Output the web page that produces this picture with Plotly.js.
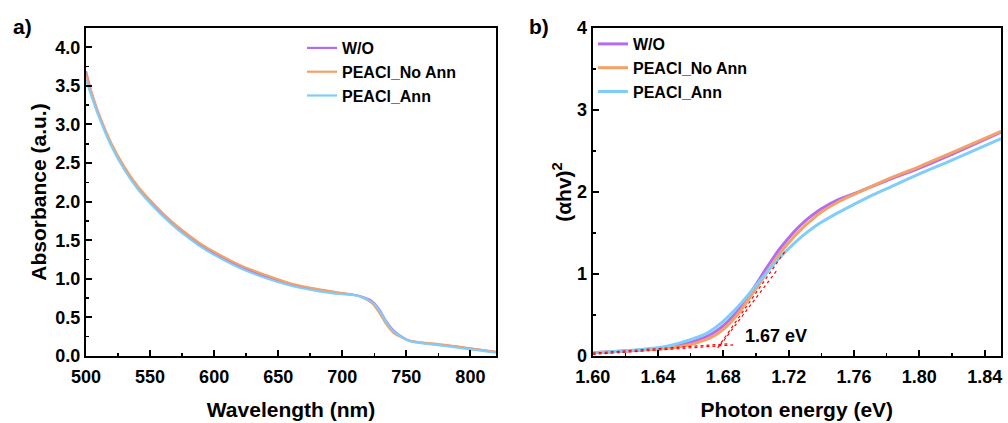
<!DOCTYPE html>
<html>
<head>
<meta charset="utf-8">
<script src="https://cdn.plot.ly/plotly-3.0.1.min.js"></script>
<style>html,body{margin:0;padding:0;background:#fff;}#chart{width:1008px;height:423px;}</style>
</head>
<body>
<div id="chart"></div>
<script>
// ---- Panel a) absorbance ----
const wavelength = [500, 505, 510, 520, 530, 540, 550, 560, 570, 580, 590, 600, 620, 640, 660, 680, 700, 710, 716, 720, 724, 729, 734, 740, 747, 752, 758, 765, 780, 800, 820];
const absWO      = [3.69, 3.37, 3.13, 2.73, 2.43, 2.19, 2.00, 1.83, 1.68, 1.55, 1.43, 1.33, 1.16, 1.03, 0.93, 0.86, 0.81, 0.79, 0.765, 0.74, 0.70, 0.60, 0.46, 0.33, 0.245, 0.20, 0.18, 0.165, 0.14, 0.095, 0.05];
const absNoAnn   = [3.66, 3.38, 3.14, 2.75, 2.45, 2.21, 2.02, 1.85, 1.70, 1.57, 1.45, 1.35, 1.18, 1.05, 0.94, 0.87, 0.815, 0.79, 0.755, 0.72, 0.67, 0.56, 0.42, 0.30, 0.235, 0.20, 0.185, 0.17, 0.145, 0.10, 0.055];
const absAnn     = [3.58, 3.33, 3.10, 2.71, 2.41, 2.17, 1.98, 1.81, 1.66, 1.53, 1.41, 1.31, 1.14, 1.01, 0.91, 0.845, 0.80, 0.785, 0.76, 0.73, 0.69, 0.59, 0.45, 0.32, 0.24, 0.195, 0.175, 0.16, 0.13, 0.085, 0.045];

// ---- Panel b) Tauc plot ----
const energy    = [1.60, 1.62, 1.64, 1.65, 1.66, 1.665, 1.67, 1.675, 1.68, 1.685, 1.69, 1.695, 1.70, 1.705, 1.71, 1.715, 1.72, 1.725, 1.73, 1.735, 1.74, 1.75, 1.76, 1.77, 1.78, 1.80, 1.82, 1.85];
const taucWO    = [0.04, 0.06, 0.09, 0.12, 0.165, 0.20, 0.24, 0.295, 0.37, 0.465, 0.58, 0.72, 0.87, 1.03, 1.18, 1.32, 1.44, 1.55, 1.645, 1.725, 1.795, 1.905, 1.98, 2.06, 2.14, 2.29, 2.46, 2.73];
const taucNoAnn = [0.04, 0.06, 0.085, 0.105, 0.14, 0.17, 0.205, 0.255, 0.325, 0.42, 0.54, 0.68, 0.82, 0.97, 1.12, 1.26, 1.38, 1.49, 1.59, 1.675, 1.755, 1.875, 1.97, 2.06, 2.15, 2.31, 2.48, 2.74];
const taucAnn   = [0.04, 0.065, 0.10, 0.14, 0.20, 0.235, 0.28, 0.345, 0.425, 0.52, 0.625, 0.74, 0.86, 0.98, 1.10, 1.21, 1.31, 1.405, 1.49, 1.565, 1.63, 1.745, 1.85, 1.95, 2.04, 2.22, 2.39, 2.65];

// tangent / baseline construction lines (endpoints)
const fitBaseX1 = [1.60, 1.686];  const fitBaseY1 = [0.02, 0.135];
const fitBaseX2 = [1.60, 1.684];  const fitBaseY2 = [0.035, 0.15];
const fitSlopeX1 = [1.6765, 1.7175]; const fitSlopeY1 = [0.10, 1.27];
const fitSlopeX2 = [1.678, 1.713];   const fitSlopeY2 = [0.13, 1.05];

const seriesNames = ['W/O', 'PEACl_No Ann', 'PEACl_Ann'];
const colors = ['#B46CF0', '#F5A066', '#80CCFA'];
const gapLabel = '1.67 eV';

const FONT = 'Arial, "Liberation Sans", sans-serif';
const absSeries = [absWO, absNoAnn, absAnn];
const taucSeries = [taucWO, taucNoAnn, taucAnn];

const traces = [];
absSeries.forEach((ys, i) => {
  traces.push({x: wavelength, y: ys, type: 'scatter', mode: 'lines', name: seriesNames[i],
    line: {color: colors[i], width: 2.2, shape: 'spline', smoothing: 1}, xaxis: 'x', yaxis: 'y', legend: 'legend'});
});
taucSeries.forEach((ys, i) => {
  traces.push({x: energy, y: ys, type: 'scatter', mode: 'lines', name: seriesNames[i],
    line: {color: colors[i], width: 3, shape: 'spline', smoothing: 1}, xaxis: 'x2', yaxis: 'y2', legend: 'legend2'});
});
[[fitBaseX1, fitBaseY1], [fitBaseX2, fitBaseY2], [fitSlopeX1, fitSlopeY1], [fitSlopeX2, fitSlopeY2]].forEach(([xs, ys]) => {
  traces.push({x: xs, y: ys, type: 'scatter', mode: 'lines', showlegend: false, hoverinfo: 'skip',
    line: {color: '#FF0000', width: 1.2, dash: 'dot'}, xaxis: 'x2', yaxis: 'y2'});
});

const tickFont = {family: FONT, size: 18, color: '#000', weight: 'bold'};
const titleFont = {family: FONT, size: 21, color: '#000', weight: 'bold'};
const axisBase = {
  showline: true, linecolor: '#000', linewidth: 2, mirror: true,
  ticks: 'inside', ticklen: 6, tickwidth: 2, tickcolor: '#000',
  showgrid: false, zeroline: false, tickfont: tickFont, automargin: false
};
const yDom = [1 - 356/423, 1 - 28/423];

const layout = {
  width: 1008, height: 423,
  margin: {l: 0, r: 0, t: 0, b: 0},
  paper_bgcolor: '#fff', plot_bgcolor: '#fff',
  font: {family: FONT, color: '#000'},
  xaxis: Object.assign({}, axisBase, {
    domain: [86/1008, 496/1008], range: [500, 820], dtick: 50, tick0: 500,
    ticklabelstandoff: 3,
    minor: {ticks: 'inside', ticklen: 3, tickwidth: 1.5, dtick: 25, tickcolor: '#000'},
    title: {text: 'Wavelength (nm)', font: titleFont, standoff: 17},
    anchor: 'y'
  }),
  yaxis: Object.assign({}, axisBase, {
    domain: yDom, range: [0, 4.25], dtick: 0.5, tick0: 0, tickformat: '.1f',
    minor: {ticks: 'inside', ticklen: 3, tickwidth: 1.5, dtick: 0.25, tickcolor: '#000'},
    title: {text: 'Absorbance (a.u.)', font: titleFont, standoff: 3},
    anchor: 'x'
  }),
  xaxis2: Object.assign({}, axisBase, {
    domain: [592.7/1008, 1001/1008], range: [1.60, 1.85], dtick: 0.04, tick0: 1.60, tickformat: '.2f',
    ticklabelstandoff: 3,
    minor: {ticks: 'inside', ticklen: 3, tickwidth: 1.5, dtick: 0.02, tickcolor: '#000'},
    title: {text: 'Photon energy (eV)', font: titleFont, standoff: 17},
    anchor: 'y2'
  }),
  yaxis2: Object.assign({}, axisBase, {
    domain: yDom, range: [0, 4], dtick: 1, tick0: 0,
    minor: {ticks: 'inside', ticklen: 3, tickwidth: 1.5, dtick: 0.5, tickcolor: '#000'},
    title: {text: '(αhv)<sup>2</sup>', font: titleFont, standoff: 0},
    anchor: 'x2'
  }),
  legend: {
    x: 302/1008, y: 1 - 31/423, xanchor: 'left', yanchor: 'top',
    bgcolor: 'rgba(0,0,0,0)', borderwidth: 0,
    font: {family: FONT, size: 16, color: '#000', weight: 'bold'},
    tracegroupgap: 0, itemwidth: 30
  },
  legend2: {
    x: 593/1008, y: 1 - 27/423, xanchor: 'left', yanchor: 'top',
    bgcolor: 'rgba(0,0,0,0)', borderwidth: 0,
    font: {family: FONT, size: 16, color: '#000', weight: 'bold'},
    tracegroupgap: 0, itemwidth: 30
  },
  annotations: [
    {text: 'a)', xref: 'paper', yref: 'paper', x: 22/1008, y: 1 - 27/423, xanchor: 'center', yanchor: 'middle',
     showarrow: false, font: {family: FONT, size: 21, color: '#000', weight: 'bold'}},
    {text: 'b)', xref: 'paper', yref: 'paper', x: 539/1008, y: 1 - 27/423, xanchor: 'center', yanchor: 'middle',
     showarrow: false, font: {family: FONT, size: 21, color: '#000', weight: 'bold'}},
    {text: gapLabel, xref: 'x2', yref: 'y2', x: 1.712, y: 0.25, xanchor: 'center', yanchor: 'middle',
     showarrow: false, font: {family: FONT, size: 18, color: '#000', weight: 'bold'}}
  ],
  showlegend: true
};

Plotly.newPlot('chart', traces, layout, {displayModeBar: false, staticPlot: true});
</script>
</body>
</html>
